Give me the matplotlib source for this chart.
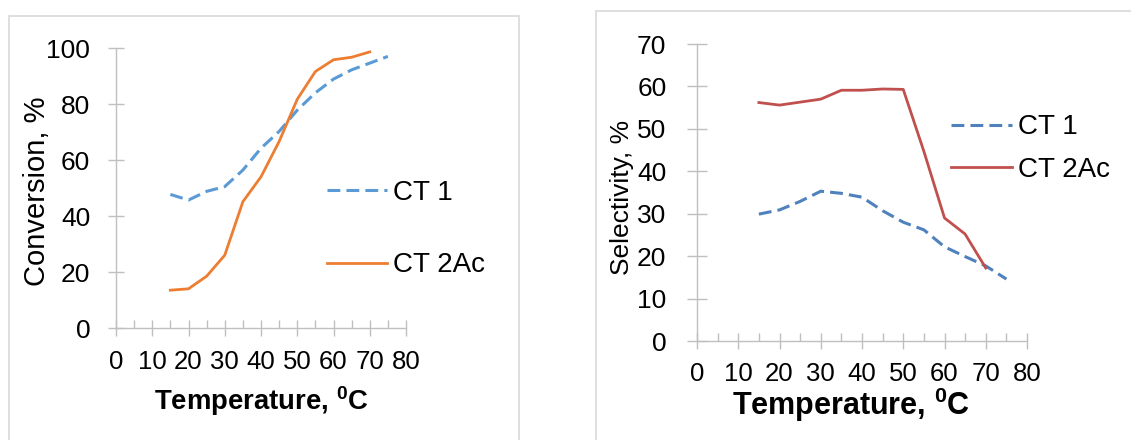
import matplotlib
matplotlib.use("Agg")
import matplotlib.pyplot as plt
from matplotlib.patches import Rectangle
from matplotlib.ticker import MultipleLocator

plt.rcParams['font.family'] = ['Liberation Sans', 'DejaVu Sans']

# ---- data ----
temps_ct1 = [15, 20, 25, 30, 35, 40, 45, 50, 55, 60, 65, 70, 75]
temps_ct2 = [15, 20, 25, 30, 35, 40, 45, 50, 55, 60, 65, 70]
conv_ct1 = [47.7, 45.7, 48.8, 50.5, 56.4, 64.2, 70.2, 77.8, 84.0, 88.9, 92.2, 94.6, 97.0]
conv_ct2 = [13.5, 14.0, 18.5, 26.0, 45.1, 54.0, 66.6, 81.7, 91.6, 95.8, 96.7, 98.6]
sel_ct1 = [29.9, 30.9, 32.9, 35.3, 34.8, 33.9, 30.7, 28.0, 26.2, 22.2, 19.9, 17.7, 14.6]
sel_ct2 = [56.2, 55.6, 56.3, 57.0, 59.1, 59.1, 59.4, 59.3, 44.7, 29.0, 25.2, 17.2]
series_names = ["CT 1", "CT 2Ac"]
x_ticks = [0, 10, 20, 30, 40, 50, 60, 70, 80]
conv_ticks = [0, 20, 40, 60, 80, 100]
sel_ticks = [0, 10, 20, 30, 40, 50, 60, 70]

W, H = 1131, 440
fig = plt.figure(figsize=(W / 100, H / 100), dpi=100)

def px_axes(x0, x1, y_top, y_bot):
    return fig.add_axes([x0 / W, 1 - y_bot / H, (x1 - x0) / W, (y_bot - y_top) / H])

# chart frames
fig.add_artist(Rectangle((8.5 / W, -0.1), (519 - 8.5) / W, 1.1 - 16 / H,
                         transform=fig.transFigure, fill=False, ec='#D9D9D9', lw=1.2))
fig.add_artist(Rectangle((596 / W, -0.1), 0.5, 1.1 - 11 / H,
                         transform=fig.transFigure, fill=False, ec='#D9D9D9', lw=1.2))

spine_c = '#BFBFBF'

def style(ax, yticks, ypad, xpad, ylen):
    for s in ['top', 'right']:
        ax.spines[s].set_visible(False)
    for s in ['left', 'bottom']:
        ax.spines[s].set_color(spine_c)
        ax.spines[s].set_linewidth(1.0)
    ax.set_xlim(0, 80)
    ax.set_xticks(x_ticks)
    ax.xaxis.set_minor_locator(MultipleLocator(5))
    ax.set_yticks(yticks)
    ax.tick_params(axis='x', which='major', direction='inout', length=12, width=1.0,
                   color=spine_c, labelsize=18.5, pad=xpad)
    ax.tick_params(axis='x', which='minor', direction='in', length=5.8, width=1.0, color=spine_c)
    ax.tick_params(axis='y', which='major', direction='inout', length=ylen, width=1.0,
                   color=spine_c, labelsize=19, pad=ypad)
    ax.patch.set_alpha(0)

# ---- left chart: conversion ----
ax1 = px_axes(116, 406, 48, 328)
ax1.plot(temps_ct1, conv_ct1, color='#5B9BD5', lw=2.2, dashes=(4.2, 2.0), label=series_names[0])
ax1.plot(temps_ct2, conv_ct2, color='#ED7D31', lw=2.0, label=series_names[1])
ax1.set_ylim(0, 100)
style(ax1, conv_ticks, ypad=12.5, xpad=10, ylen=12)
ax1.set_xlabel(r"Temperature, $\mathregular{^0}$C", fontsize=19.8, fontweight='bold')
ax1.xaxis.label.set_va('baseline')
ax1.xaxis.set_label_coords(0.5, (328 - 410) / 280)
ax1.set_ylabel("Conversion, %", fontsize=21)
ax1.yaxis.label.set_va('baseline')
ax1.yaxis.set_label_coords((44.5 - 116) / 290, (328 - 191) / 280)
ax1.legend(loc='center left', bbox_to_anchor=(327 / W, 1 - 229 / H), bbox_transform=fig.transFigure,
           frameon=False, fontsize=20, handlelength=2.16, handletextpad=0.2,
           labelspacing=1.69, borderpad=0, borderaxespad=0)

# ---- right chart: selectivity ----
ax2 = px_axes(697, 1027, 44, 341)
ax2.plot(temps_ct1, sel_ct1, color='#4F81BD', lw=2.2, dashes=(4.2, 2.0), label=series_names[0])
ax2.plot(temps_ct2, sel_ct2, color='#C0504D', lw=2.0, label=series_names[1])
ax2.set_ylim(0, 70)
style(ax2, sel_ticks, ypad=15, xpad=9, ylen=14)
ax2.set_xlabel(r"Temperature, $\mathregular{^0}$C", fontsize=22, fontweight='bold')
ax2.xaxis.label.set_va('baseline')
ax2.xaxis.set_label_coords((851 - 697) / 330, (341 - 415) / 297)
ax2.set_ylabel("Selectivity, %", fontsize=19)
ax2.yaxis.label.set_va('baseline')
ax2.yaxis.set_label_coords((629 - 697) / 330, (341 - 197) / 297)
ax2.legend(loc='center left', bbox_to_anchor=(951 / W, 1 - 148.5 / H), bbox_transform=fig.transFigure,
           frameon=False, fontsize=20, handlelength=2.2, handletextpad=0.2,
           labelspacing=0.58, borderpad=0, borderaxespad=0)

fig.savefig("out.png", dpi=100)
